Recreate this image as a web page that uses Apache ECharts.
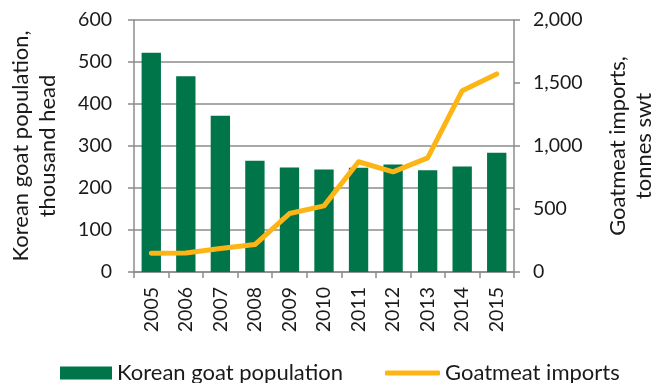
<!DOCTYPE html>
<html>
<head>
<meta charset="utf-8">
<script src="https://cdn.jsdelivr.net/npm/echarts@6/dist/echarts.min.js"></script>
<style>
  html, body { margin: 0; padding: 0; background: #fff; }
  #chart { width: 655px; height: 383px; }
</style>
</head>
<body>
<div id="chart"></div>
<script>
// Korean goat population (thousand head) vs goatmeat imports (tonnes swt)
const years = ['2005', '2006', '2007', '2008', '2009', '2010', '2011', '2012', '2013', '2014', '2015'];
const goatPopulation = [522, 466, 372, 265, 249, 244, 248, 256, 242, 251, 284];
const goatmeatImports = [149, 151, 186, 218, 464, 525, 875, 795, 906, 1439, 1572];
const leftTicks = { min: 0, max: 600, interval: 100 };
const rightTicks = { min: 0, max: 2000, interval: 500 };

const FONT = 'Lato';
const GREEN = '#00754A';
const ORANGE = '#FDB515';
const GRID_GRAY = '#8C8C8C';
const TEXT = '#1a1a1a';
const TICK_SIZE = 19.5;
const TITLE_SIZE = 22;

const chart = echarts.init(document.getElementById('chart'), null, { renderer: 'canvas' });

chart.setOption({
  animation: false,
  textStyle: { fontFamily: FONT },
  grid: {
    left: 134, right: 141, top: 20, bottom: 111,
    containLabel: false,
    outerBoundsMode: 'none'
  },
  legend: [
    {
      left: 55,
      top: 357,
      itemWidth: 52,
      itemHeight: 13,
      itemGap: 6,
      icon: 'rect',
      textStyle: { fontFamily: FONT, fontSize: TITLE_SIZE, color: TEXT },
      data: ['Korean goat population']
    },
    {
      left: 380,
      top: 357,
      itemWidth: 55,
      itemHeight: 5,
      icon: 'roundRect',
      textStyle: { fontFamily: FONT, fontSize: TITLE_SIZE, color: TEXT },
      data: ['Goatmeat imports']
    }
  ],
  xAxis: {
    type: 'category',
    data: years,
    axisLine: { lineStyle: { color: GRID_GRAY, width: 1.5 } },
    axisTick: { show: true, length: 6, lineStyle: { color: GRID_GRAY, width: 1.5 } },
    axisLabel: { rotate: 90, fontFamily: FONT, fontSize: TICK_SIZE, color: TEXT, margin: 15 }
  },
  yAxis: [
    {
      type: 'value',
      position: 'left',
      min: leftTicks.min, max: leftTicks.max, interval: leftTicks.interval,
      name: 'Korean goat population,\nthousand head',
      nameLocation: 'middle',
      nameRotate: 90,
      nameGap: 73,
      nameTextStyle: { fontFamily: FONT, fontSize: TITLE_SIZE, color: TEXT, lineHeight: 27 },
      axisLine: { show: true, lineStyle: { color: GRID_GRAY, width: 1.5 } },
      axisTick: { show: true, length: 6, lineStyle: { color: GRID_GRAY, width: 1.5 } },
      axisLabel: { fontFamily: FONT, fontSize: TICK_SIZE, color: TEXT, margin: 22 },
      splitLine: { show: true, lineStyle: { color: GRID_GRAY, width: 1.5 } }
    },
    {
      type: 'value',
      position: 'right',
      min: rightTicks.min, max: rightTicks.max, interval: rightTicks.interval,
      name: 'Goatmeat imports,\ntonnes swt',
      nameLocation: 'middle',
      nameRotate: 90,
      nameGap: 91,
      nameTextStyle: { fontFamily: FONT, fontSize: TITLE_SIZE, color: TEXT, lineHeight: 26 },
      axisLine: { show: true, lineStyle: { color: GRID_GRAY, width: 1.5 } },
      axisTick: { show: true, length: 6, lineStyle: { color: GRID_GRAY, width: 1.5 } },
      axisLabel: {
        fontFamily: FONT, fontSize: TICK_SIZE, color: TEXT, margin: 19,
        formatter: v => v.toLocaleString('en-US')
      },
      splitLine: { show: false }
    }
  ],
  series: [
    {
      name: 'Korean goat population',
      type: 'bar',
      yAxisIndex: 0,
      data: goatPopulation,
      barWidth: '56%',
      itemStyle: { color: GREEN }
    },
    {
      name: 'Goatmeat imports',
      type: 'line',
      yAxisIndex: 1,
      data: goatmeatImports,
      symbol: 'none',
      lineStyle: { color: ORANGE, width: 5, cap: 'round', join: 'round' },
      itemStyle: { color: ORANGE }
    }
  ]
});
</script>
</body>
</html>
